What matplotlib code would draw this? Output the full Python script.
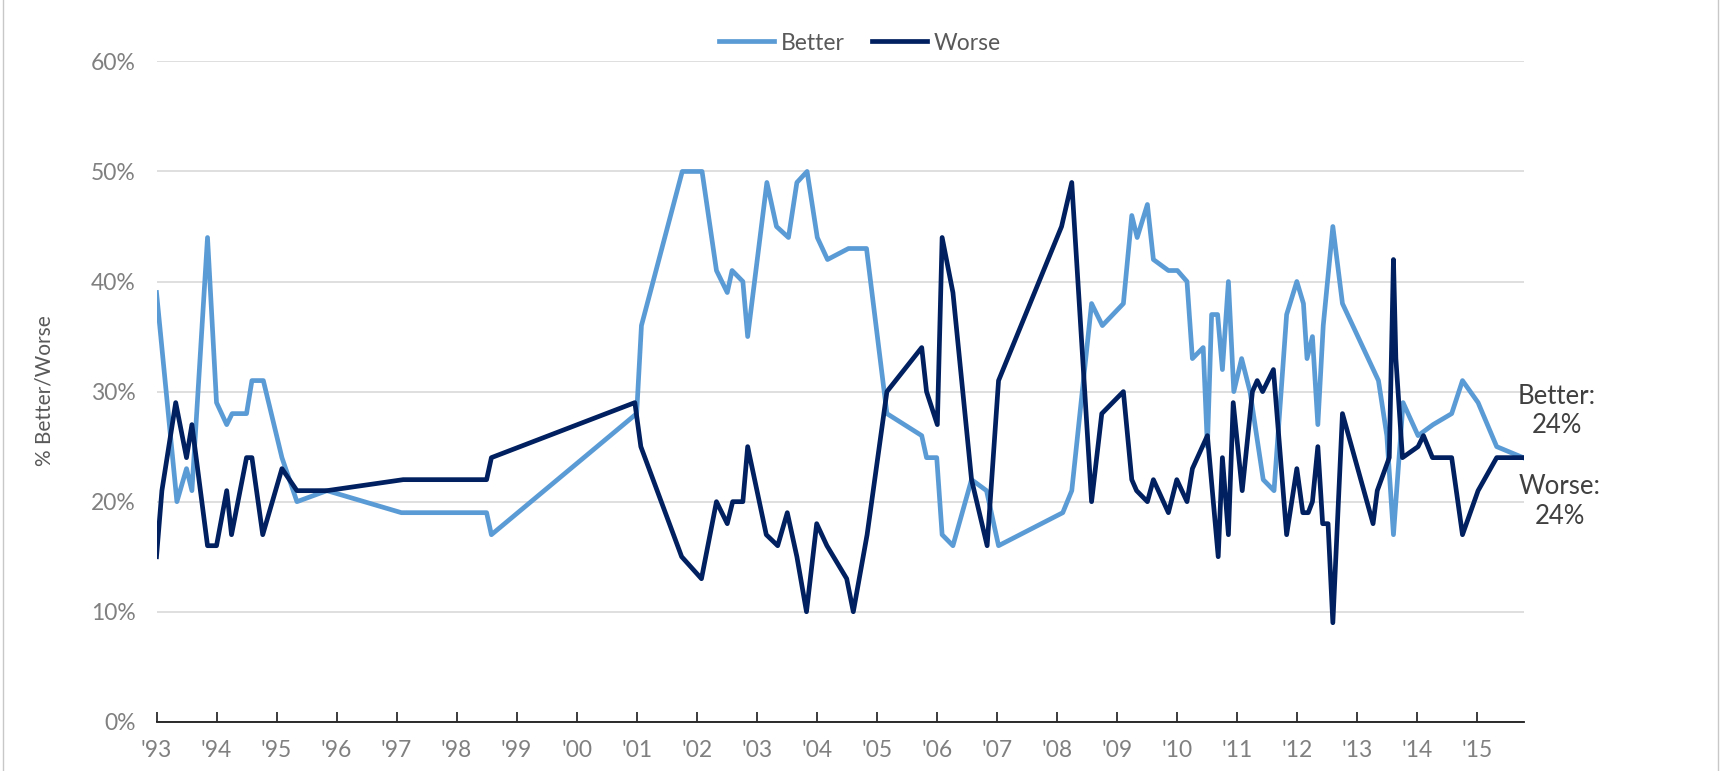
import matplotlib
matplotlib.use("Agg")
import matplotlib.pyplot as plt
from matplotlib.lines import Line2D
from matplotlib.ticker import FixedLocator, FuncFormatter

plt.rcParams['font.family'] = ['Lato', 'DejaVu Sans']

# ---- data (decimal years, percent) ----
better_x = [1993.00, 1993.34, 1993.50, 1993.59, 1993.85, 1994.00, 1994.17, 1994.26,
            1994.50, 1994.59, 1994.78, 1995.09, 1995.34, 1995.84, 1997.08, 1998.50,
            1998.58, 2001.00, 2001.08, 2001.76, 2002.09, 2002.33, 2002.51, 2002.59,
            2002.77, 2002.85, 2003.17, 2003.33, 2003.53, 2003.67, 2003.84, 2004.01,
            2004.18, 2004.53, 2004.83, 2005.17, 2005.75, 2005.83, 2006.00, 2006.09,
            2006.27, 2006.58, 2006.83, 2007.03, 2008.10, 2008.25, 2008.58, 2008.76,
            2009.11, 2009.25, 2009.34, 2009.51, 2009.61, 2009.86, 2010.01, 2010.17,
            2010.26, 2010.44, 2010.51, 2010.58, 2010.68, 2010.76, 2010.86, 2010.95,
            2011.08, 2011.22, 2011.44, 2011.62, 2011.83, 2012.00, 2012.11, 2012.17,
            2012.26, 2012.35, 2012.44, 2012.60, 2012.76, 2013.36, 2013.50, 2013.61,
            2013.77, 2014.02, 2014.27, 2014.58, 2014.76, 2015.02, 2015.33, 2015.77]
better_y = [39, 20, 23, 21, 44, 29, 27, 28,
            28, 31, 31, 24, 20, 21, 19, 19,
            17, 28, 36, 50, 50, 41, 39, 41,
            40, 35, 49, 45, 44, 49, 50, 44,
            42, 43, 43, 28, 26, 24, 24, 17,
            16, 22, 21, 16, 19, 21, 38, 36,
            38, 46, 44, 47, 42, 41, 41, 40,
            33, 34, 25, 37, 37, 32, 40, 30,
            33, 30, 22, 21, 37, 40, 38, 33,
            35, 27, 36, 45, 38, 31, 26, 17,
            29, 26, 27, 28, 31, 29, 25, 24]

worse_x = [1993.00, 1993.09, 1993.32, 1993.50, 1993.59, 1993.85, 1994.00, 1994.17,
           1994.25, 1994.50, 1994.59, 1994.77, 1995.09, 1995.34, 1995.84, 1997.11,
           1998.50, 1998.58, 2000.97, 2001.07, 2001.75, 2002.08, 2002.33, 2002.51,
           2002.60, 2002.77, 2002.85, 2003.16, 2003.35, 2003.51, 2003.67, 2003.83,
           2004.00, 2004.17, 2004.50, 2004.61, 2004.84, 2005.17, 2005.75, 2005.83,
           2006.01, 2006.09, 2006.27, 2006.58, 2006.84, 2007.03, 2008.08, 2008.25,
           2008.58, 2008.75, 2009.11, 2009.25, 2009.33, 2009.51, 2009.61, 2009.86,
           2010.00, 2010.17, 2010.26, 2010.51, 2010.69, 2010.76, 2010.86, 2010.94,
           2011.09, 2011.26, 2011.34, 2011.43, 2011.61, 2011.83, 2012.00, 2012.10,
           2012.19, 2012.26, 2012.35, 2012.43, 2012.52, 2012.60, 2012.76, 2013.27,
           2013.34, 2013.54, 2013.61, 2013.65, 2013.76, 2014.02, 2014.11, 2014.26,
           2014.58, 2014.76, 2015.02, 2015.33, 2015.77]
worse_y = [15, 21, 29, 24, 27, 16, 16, 21,
           17, 24, 24, 17, 23, 21, 21, 22,
           22, 24, 29, 25, 15, 13, 20, 18,
           20, 20, 25, 17, 16, 19, 15, 10,
           18, 16, 13, 10, 17, 30, 34, 30,
           27, 44, 39, 22, 16, 31, 45, 49,
           20, 28, 30, 22, 21, 20, 22, 19,
           22, 20, 23, 26, 15, 24, 17, 29,
           21, 30, 31, 30, 32, 17, 23, 19,
           19, 20, 25, 18, 18, 9, 28, 18,
           21, 24, 42, 33, 24, 25, 26, 24,
           24, 17, 21, 24, 24]

years = list(range(1993, 2016))
year_labels = ["'%02d" % (y % 100) for y in years]
y_ticks = [0, 10, 20, 30, 40, 50, 60]

BETTER_C = '#5B9BD5'
WORSE_C = '#002060'

W, H = 1720, 771
fig = plt.figure(figsize=(W / 100, H / 100), dpi=100)
x0, x1, ytop, ybot = 156.5, 1523.7, 61.4, 721.8
ax = fig.add_axes([x0 / W, 1 - ybot / H, (x1 - x0) / W, (ybot - ytop) / H])

ax.plot(better_x, better_y, color=BETTER_C, lw=3.4, label='Better', zorder=3)
ax.plot(worse_x, worse_y, color=WORSE_C, lw=3.4, label='Worse', zorder=4)

ax.set_xlim(1993.0, 2015.78)
ax.set_ylim(0, 60)

ax.yaxis.set_major_locator(FixedLocator(y_ticks))
ax.yaxis.set_major_formatter(FuncFormatter(lambda v, p: '%d%%' % v))
ax.set_xticks(years)
ax.set_xticklabels(year_labels)

ax.yaxis.grid(True, color='#D9D9D9', lw=1.2)
ax.set_axisbelow(True)
for s in ['left', 'top', 'right']:
    ax.spines[s].set_visible(False)
ax.spines['bottom'].set_color('#1a1a1a')
ax.spines['bottom'].set_linewidth(1.3)
ax.spines['bottom'].set_zorder(5)

ax.tick_params(axis='x', direction='in', length=7, width=1.2, color='#1a1a1a',
               pad=13, labelsize=16.5, labelcolor='#808080')
ax.tick_params(axis='y', length=0, pad=15, labelsize=16.5, labelcolor='#808080')

fig.text(45 / W, 1 - 391 / H, '% Better/Worse', rotation=90, ha='center', va='center',
         fontsize=15, color='#595959')

fig.legend(loc='center', bbox_to_anchor=(0.5, 1 - 43 / H), ncol=2, frameon=False,
           fontsize=16.5, handlelength=2.4, handletextpad=0.3, columnspacing=1.2,
           labelcolor='#595959')

fig.text(1557 / W, 1 - 411 / H, 'Better:\n%d%%' % better_y[-1], ha='center', va='center',
         fontsize=18.5, color='#404040', linespacing=1.2)
fig.text(1560 / W, 1 - 501.5 / H, 'Worse:\n%d%%' % worse_y[-1], ha='center', va='center',
         fontsize=18.5, color='#404040', linespacing=1.2)

# figure frame (left/right border)
fig.add_artist(Line2D([2.7 / W, 2.7 / W], [0, 1], transform=fig.transFigure,
                      color='#C8C8C8', lw=1))
fig.add_artist(Line2D([1717.5 / W, 1717.5 / W], [0, 1], transform=fig.transFigure,
                      color='#C8C8C8', lw=1))

fig.savefig('out.png', dpi=100)
